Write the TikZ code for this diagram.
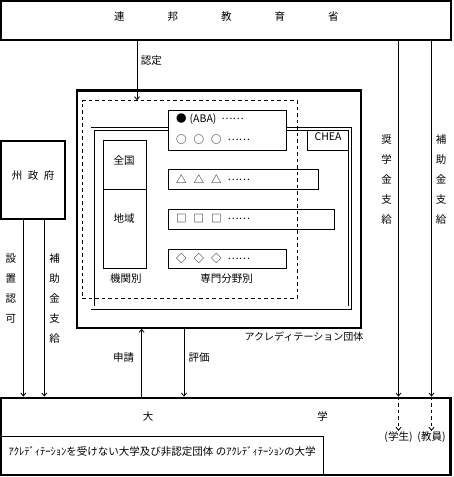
\documentclass[tikz,border=0pt]{standalone}
\usepackage{fontspec}
\setmainfont{Noto Sans CJK JP}
\usetikzlibrary{fit, arrows.meta}
\tikzset{
  heavy/.style={draw, line width=2.2pt, inner sep=0pt},
  box/.style={draw, line width=0.8pt, inner sep=0pt},
  dbl/.style={draw, double, double distance=2.5pt, line width=0.8pt, inner sep=0pt},
  dsh/.style={draw, line width=0.8pt, dash pattern=on 3.5pt off 3pt, inner sep=0pt},
  txt/.style={inner sep=0pt},
  vtxt/.style={inner sep=0pt, align=center, font=\fontsize{10.5}{20}\selectfont},
  row/.style={inner sep=0pt, anchor=west},
  tr/.style={-{Straight Barb[length=3pt,width=5pt]}, line width=0.8pt},
  dtr/.style={tr, dash pattern=on 3.5pt off 3pt}
}
\newcommand{\middots}{\raisebox{3pt}{……}}
\newcommand{\symrow}[1]{#1\hspace{7pt}#1\hspace{7pt}#1\hspace{6pt}\middots}

\begin{document}
\begin{tikzpicture}[x=1pt, y=-1pt, font=\fontsize{10.5}{12}\selectfont]
  \useasboundingbox (0,0) rectangle (453,477);
  % x positions of the vertical connectors
  \coordinate (xn) at (137,0);
  \coordinate (xs1) at (23.3,0);
  \coordinate (xs2) at (44.3,0);
  \coordinate (xr1) at (398.5,0);
  \coordinate (xr2) at (431.5,0);
  \coordinate (xap) at (141.7,0);
  \coordinate (xev) at (184,0);
  % main bodies
  \node[heavy, fit={(1.3,1.3) (451.3,39.7)}] (mext) {連\hspace{43pt}邦\hspace{43pt}教\hspace{43pt}育\hspace{43pt}省};
  \node[heavy, fit={(1,141) (65.3,218.7)}] (shu) {州\hspace{5.5pt}政\hspace{5.5pt}府};
  \node[heavy, fit={(77.2,90.5) (361,327.7)}] (acc) {};
  \node[heavy, fit={(1,397.7) (450.5,475)}] (univ) {};
  \node[box, fit={(1,436.7) (323.3,475)}] (nonacc) {ｱｸﾚﾃﾞｨﾃｰｼｮﾝを受けない大学及び非認定団体 のｱｸﾚﾃﾞｨﾃｰｼｮﾝの大学};
  \node[txt] (daigaku) at (235.3,416.7) {大\hspace{164pt}学};
  % inside the accreditation body
  \node[dbl, fit={(92.7,129.2) (350.2,307.7)}] (frame) {};
  \node[box, fit={(307.3,130.8) (348.8,150.3)}] (chea) {CHEA};
  \node[box, fill=white, fit={(168.3,110.7) (286.7,150.7)}] (ababox) {};
  \node[box, fit={(168.3,169.3) (318.3,189.3)}] (tribox) {};
  \node[box, fit={(168.3,209.3) (334,229.3)}] (sqbox) {};
  \node[box, fit={(168.3,249.3) (286.7,268.3)}] (diabox) {};
  \node[box, fit={(103.3,140.7) (146.7,189.3)}] (zenkoku) {};
  \node[box, fit={(103.3,189.3) (146.7,268.3)}] (chiiki) {};
  \node[dsh, fit={(82.3,100.7) (297.3,298)}] (dbox) {};
  \node[row] (aba) at (176,119.3) {●\hspace{3pt}(ABA)\hspace{5pt}\middots};
  \node[row] (maru) at (176,139.3) {\symrow{○}};
  \node[row] (sankaku) at (176,179.3) {\symrow{△}};
  \node[row] (shikaku) at (176,218.3) {\symrow{□}};
  \node[row] (hishi) at (176,258.3) {\symrow{◇}};
  \node[txt] (zklbl) at (124,160) {全国};
  \node[txt] (cklbl) at (124,218.3) {地域};
  \node[txt] (kikan) at (125.8,279) {機関別};
  \node[txt] (senmon) at (226.7,279) {専門分野別};
  \node[txt, font=\fontsize{10}{12}\selectfont] (acclbl) at (304,337) {アクレディテーション団体};
  % connectors
  \draw[tr] (mext.south -| xn) -- (dbox.north -| xn);
  \draw[tr] (shu.south -| xs1) -- (univ.north -| xs1);
  \draw[tr] (shu.south -| xs2) -- (univ.north -| xs2);
  \draw[tr] (mext.south -| xr1) -- (univ.north -| xr1);
  \draw[tr] (mext.south -| xr2) -- (univ.north -| xr2);
  \draw[tr] (univ.north -| xap) -- (acc.south -| xap);
  \draw[tr] (acc.south -| xev) -- (univ.north -| xev);
  \node[txt, inner sep=1pt] (gakusei) at (398.5,437.5) {(学生)};
  \node[txt, inner sep=1pt] (kyoin) at (431.5,437.5) {(教員)};
  \draw[dtr] (univ.north -| xr1) -- (gakusei.north);
  \draw[dtr] (univ.north -| xr2) -- (kyoin.north);
  % connector labels
  \node[txt] (nintei) at (151.3,60.8) {認定};
  \node[txt] (shinsei) at (123.5,357.5) {申請};
  \node[txt] (hyoka) at (199,357.5) {評価};
  \node[vtxt] (ninka) at (10.8,288.3) {設\\置\\認\\可};
  \node[vtxt] (hojo1) at (54.7,298.3) {補\\助\\金\\支\\給};
  \node[vtxt] (shogaku) at (386.7,180) {奨\\学\\金\\支\\給};
  \node[vtxt] (hojo2) at (441,180) {補\\助\\金\\支\\給};
\end{tikzpicture}
\end{document}
